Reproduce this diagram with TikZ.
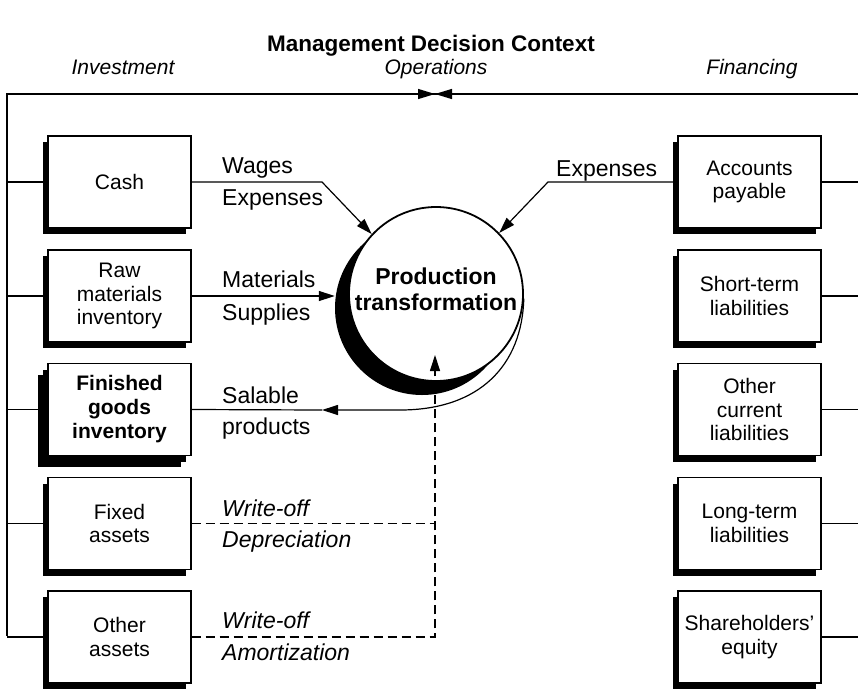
\documentclass[tikz,border=0pt]{standalone}
\usepackage{fontspec}
\setmainfont{Liberation Sans}
\usetikzlibrary{arrows.meta,shadows,backgrounds}
\begin{document}
\begin{tikzpicture}[x=1pt,y=-1pt,
  conn/.style={line width=1.2pt},
  arr/.style={-{Triangle[length=16pt,width=10pt]}},
  bowtip/.style={line width=1.2pt,-{Triangle[length=17pt,width=10pt]}},
  acct/.style={draw, fill=white, line width=1.3pt, minimum width=143pt, minimum height=92pt,
    inner sep=0pt, align=center, font=\fontsize{21}{23.5}\selectfont,
    drop shadow={shadow xshift=-5.5pt, shadow yshift=-6pt, fill=black, opacity=1}},
  keyacct/.style={acct, line width=1.6pt, font=\fontsize{21}{24}\selectfont\bfseries,
    drop shadow={shadow xshift=-10pt, shadow yshift=-11pt, fill=black, opacity=1}},
  lbl/.style={anchor=base west, inner sep=0pt, font=\fontsize{23}{26}\selectfont},
  ilbl/.style={lbl, font=\fontsize{23}{26}\selectfont\itshape},
  head/.style={anchor=base, inner sep=0pt, font=\fontsize{21}{24}\selectfont\itshape},
  ctext/.style={anchor=base, inner sep=0pt, font=\fontsize{23}{26}\selectfont\bfseries}
]
\useasboundingbox (0,0) rectangle (858,688);

% titles
\node[anchor=base, inner sep=0pt, font=\fontsize{22.5}{26}\selectfont\bfseries] (title) at (431,51) {Management Decision Context};
\node[head] (hinv) at (123,74) {Investment};
\node[head] (hops) at (436,74) {Operations};
\node[head] (hfin) at (752,74) {Financing};

% coordinates
\coordinate (railtop) at (7,94);
\coordinate (railbot) at (7,636);
\coordinate (rightend) at (858,94);
\coordinate (bow) at (435,94);

% production circle
\node[circle, fill=black, minimum size=174pt, inner sep=0pt] (prodsh) at (422,308) {};
\node[circle, draw, fill=white, line width=1.8pt, minimum size=174pt, inner sep=0pt] (prod) at (436,294) {};
\node[ctext] (pt1) at (436,284) {Production};
\node[ctext] (pt2) at (436,310) {transformation};

% left boxes
\node[acct] (cash) at (119.5,182) {Cash};
\node[acct] (raw) at (119.5,296) {Raw\\materials\\inventory};
\node[keyacct] (fin) at (119.5,409.5) {Finished\\goods\\inventory};
\node[acct] (fix) at (119.5,523.5) {Fixed\\assets};
\node[acct] (oth) at (119.5,637) {Other\\assets};

% right boxes
\node[acct] (ap) at (749.5,182) {Accounts\\payable};
\node[acct] (st) at (749.5,296) {Short-term\\liabilities};
\node[acct] (oc) at (749.5,409.5) {Other\\current\\liabilities};
\node[acct] (lt) at (749.5,523.5) {Long-term\\liabilities};
\node[acct] (se) at (749.5,637) {Shareholders’\\equity};

% rails and stubs
\begin{scope}[on background layer]
\draw[conn] (railbot) -- (railtop) -- (rightend);
\foreach \b in {cash,raw,fin,fix,oth}{
  \draw[conn] (\b.west -| railtop) -- (\b.west);
}
\foreach \b in {ap,st,oc,lt,se}{
  \draw[conn] (\b.east) -- (\b.east -| rightend);
}
\end{scope}
\draw[bowtip] (railtop) -- (bow);
\draw[bowtip] (rightend) -- (bow);

% flows
\coordinate (cashbend) at (322,182);
\coordinate (apbend) at (548,182);
\coordinate (salt) at (322,410);
\coordinate (dashx) at (435,523.5);
\coordinate (dtip) at (435,355);

\draw[conn, arr] (cash.east) -- (cashbend) -- (prod.137);
\draw[conn, arr] (ap.west) -- (apbend) -- (prod.44);
\draw[conn, arr] (raw.east) -- (raw.east -| prodsh.west);
\draw[conn] (fin.east) -- (salt);
\draw[conn, arr] (prod.-3) .. controls (522,365) and (480,410) .. (400,410) -- (salt);
\draw[conn, dash pattern=on 9pt off 5pt] (fix.east) -- (dashx);
\draw[conn, dash pattern=on 9pt off 5pt, arr] (oth.east) -| (dtip);

% labels
\node[lbl] (lw) at (222,173) {Wages};
\node[lbl] (le1) at (222,205) {Expenses};
\node[lbl] (lm) at (222,287) {Materials};
\node[lbl] (ls) at (222,320) {Supplies};
\node[lbl] (lsa) at (222,403) {Salable};
\node[lbl] (lp) at (222,434) {products};
\node[ilbl] (lwo1) at (222,516) {Write-off};
\node[ilbl] (ld) at (222,547) {Depreciation};
\node[ilbl] (lwo2) at (222,628) {Write-off};
\node[ilbl] (la) at (222,660) {Amortization};
\node[lbl] (le2) at (556,176) {Expenses};
\end{tikzpicture}
\end{document}
